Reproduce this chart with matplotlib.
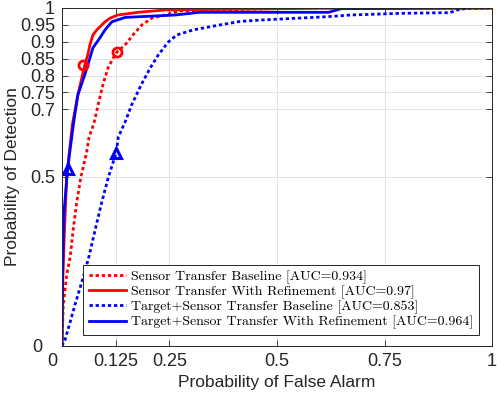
import numpy as np
import matplotlib
matplotlib.use("Agg")
import matplotlib.pyplot as plt
import matplotlib.transforms as mtransforms

# ROC curves (false alarm, detection)
st_base_pf = [0, 0.001, 0.003, 0.011, 0.019, 0.026, 0.034, 0.044, 0.057, 0.063, 0.074, 0.084,
              0.095, 0.107, 0.119, 0.128, 0.147, 0.165, 0.186, 0.209, 0.240, 0.274, 0.384, 0.553, 1.0]
st_base_pd = [0, 0.041, 0.121, 0.210, 0.263, 0.343, 0.423, 0.500, 0.571, 0.618, 0.657, 0.713,
              0.772, 0.822, 0.852, 0.870, 0.891, 0.920, 0.950, 0.970, 0.979, 0.991, 0.994, 1.0, 1.0]

st_ref_pf = [0, 0.002, 0.006, 0.011, 0.024, 0.037, 0.053, 0.060, 0.065, 0.072, 0.081, 0.093,
             0.100, 0.112, 0.130, 0.177, 0.240, 0.600, 1.0]
st_ref_pd = [0, 0.20, 0.35, 0.50, 0.654, 0.743, 0.831, 0.861, 0.891, 0.920, 0.935, 0.950,
             0.959, 0.970, 0.979, 0.987, 0.994, 0.999, 1.0]

tst_base_pf = [0, 0.007, 0.019, 0.030, 0.042, 0.053, 0.063, 0.077, 0.092, 0.108, 0.126, 0.131,
               0.147, 0.162, 0.184, 0.205, 0.224, 0.247, 0.267, 0.305, 0.360, 0.414, 0.460,
               0.537, 0.616, 0.670, 0.786, 0.902, 0.919, 0.942, 1.0]
tst_base_pd = [0, 0.018, 0.071, 0.121, 0.172, 0.219, 0.266, 0.343, 0.423, 0.500, 0.571, 0.618,
               0.663, 0.713, 0.772, 0.822, 0.861, 0.899, 0.920, 0.935, 0.948, 0.960, 0.964,
               0.969, 0.974, 0.979, 0.984, 0.986, 0.994, 0.999, 1.0]

tst_ref_pf = [0, 0.001, 0.002, 0.005, 0.013, 0.028, 0.037, 0.053, 0.060, 0.072, 0.088, 0.100,
              0.116, 0.147, 0.263, 0.32, 0.62, 0.65, 1.0]
tst_ref_pd = [0, 0.15, 0.27, 0.40, 0.524, 0.669, 0.743, 0.802, 0.831, 0.882, 0.911, 0.935,
              0.959, 0.972, 0.979, 0.987, 0.987, 0.998, 1.0]

# operating points
op_st_base = (0.128, 0.870)
op_st_ref = (0.049, 0.830)
op_tst_base = (0.125, 0.571)
op_tst_ref = (0.014, 0.524)

labels = ["Sensor Transfer Baseline [AUC=0.934]",
          "Sensor Transfer With Refinement [AUC=0.97]",
          "Target+Sensor Transfer Baseline [AUC=0.853]",
          "Target+Sensor Transfer With Refinement [AUC=0.964]"]

xticks = [0, 0.125, 0.25, 0.5, 0.75, 1]
xticklabels = ["0", "0.125", "0.25", "0.5", "0.75", "1"]
yticks = [0, 0.5, 0.7, 0.75, 0.8, 0.85, 0.9, 0.95, 1]
yticklabels = ["0", "0.5", "0.7", "0.75", "0.8", "0.85", "0.9", "0.95", "1"]

plt.rcParams['font.family'] = ['Liberation Sans', 'DejaVu Sans']

fig = plt.figure(figsize=(4.97, 3.96), dpi=100)
ax = fig.add_axes([0.1247, 0.1263, 0.8653, 0.8537])

dot = (0, (1.2, 1.0))
lw = 2.0
ax.plot(st_base_pf, st_base_pd, color='red', linestyle=dot, lw=lw, label=labels[0])
ax.plot(st_ref_pf, st_ref_pd, color='red', linestyle='-', lw=lw, label=labels[1])
ax.plot(tst_base_pf, tst_base_pd, color='blue', linestyle=dot, lw=lw, label=labels[2])
ax.plot(tst_ref_pf, tst_ref_pd, color='blue', linestyle='-', lw=lw, label=labels[3])

for (px, py) in [op_st_base, op_st_ref]:
    ax.plot(px, py, 'o', ms=6.5, mfc='none', mec='red', mew=2)
for (px, py) in [op_tst_base, op_tst_ref]:
    ax.plot(px, py, '^', ms=7.5, mfc='none', mec='blue', mew=2.2)

ax.set_xlim(0, 1)
ax.set_ylim(0, 1)
ax.set_xticks(xticks)
ax.set_xticklabels(xticklabels)
ax.set_yticks(yticks)
ax.set_yticklabels(yticklabels)
ax.tick_params(direction='in', top=True, right=True, length=4, labelsize=13,
               color='#262626', labelcolor='#262626', width=0.6, pad=5)
ax.grid(True, color='#e3e3e3', lw=0.7)
ax.set_axisbelow(True)
for s in ax.spines.values():
    s.set_color('#262626')
    s.set_linewidth(0.7)

# the two "0" labels at the origin sit a bit to the left, as in the reference
xl0 = ax.get_xticklabels()[0]
xl0.set_transform(xl0.get_transform() + mtransforms.ScaledTranslation(-10 / 100, 0, fig.dpi_scale_trans))
yl0 = ax.get_yticklabels()[0]
yl0.set_transform(yl0.get_transform() + mtransforms.ScaledTranslation(-13 / 100, 0, fig.dpi_scale_trans))

ax.set_xlabel('Probability of False Alarm', fontsize=12.5, color='#262626')
ax.xaxis.set_label_coords(0.5, -0.085)
ax.set_ylabel('Probability of Detection', fontsize=12.5, color='#262626')
ax.yaxis.set_label_coords(-0.097, 0.5)

leg = ax.legend(loc='lower left', bbox_to_anchor=(0.049, 0.033),
                prop={'family': ['cmr10', 'DejaVu Serif'], 'size': 10},
                handlelength=2.7, handletextpad=0.35, labelspacing=0.12,
                borderpad=0.4, borderaxespad=0, fancybox=False, framealpha=1)
leg.get_frame().set_edgecolor('#262626')
leg.get_frame().set_linewidth(0.7)

fig.savefig('out.png', dpi=100)
